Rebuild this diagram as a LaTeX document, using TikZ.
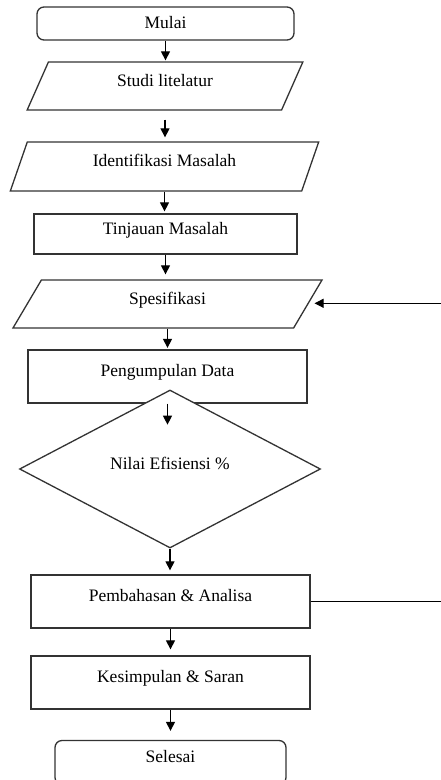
\documentclass[tikz,border=0pt]{standalone}
\usepackage{fontspec}
\setmainfont{Liberation Serif}
\usetikzlibrary{shapes.geometric,arrows.meta}
\colorlet{garis}{black!80}
\tikzset{
    kotak/.style={draw=garis,line width=1.3pt,fill=white,inner sep=2pt,
        text height=12pt,text depth=12pt,font=\fontsize{17.5}{21}\selectfont},
    proses/.style={kotak,rectangle},
    terminal/.style={kotak,rectangle,rounded corners=7pt},
    masukan/.style={kotak,trapezium,trapezium left angle=72,trapezium right angle=108,
        trapezium stretches=true},
    keputusan/.style={kotak,diamond},
    panah/.style={black,line width=1.2pt,-{Triangle[length=9pt,width=9pt]}},
    balikan/.style={black,line width=1pt}
}
\begin{document}
\begin{tikzpicture}[x=1pt,y=1pt]
            \useasboundingbox (0,0) rectangle (441,-780);
            \node [terminal,text depth=3pt,minimum width=257pt,minimum height=33pt] (mulai) at (165.5,-23.5) {Mulai};
            \node [masukan,minimum width=276pt,minimum height=48pt] (studi) at (165,-86) {Studi litelatur};
            \node [masukan,minimum width=309pt,minimum height=49pt] (identifikasi) at (164.5,-166.5) {Identifikasi Masalah};
            \node [proses,minimum width=263pt,minimum height=40pt] (tinjauan) at (165.5,-234) {Tinjauan Masalah};
            \node [masukan,minimum width=309pt,minimum height=48pt] (spesifikasi) at (167.5,-304) {Spesifikasi};
            \node [proses,minimum width=279pt,minimum height=53pt] (pengumpulan) at (167.5,-376.5) {Pengumpulan Data};
            \node [keputusan,minimum width=301pt,minimum height=158pt] (efisiensi) at (170,-469) {Nilai Efisiensi \%};
            \node [proses,minimum width=279pt,minimum height=53pt] (pembahasan) at (170.5,-601.5) {Pembahasan \& Analisa};
            \node [proses,minimum width=279pt,minimum height=53pt] (kesimpulan) at (170.5,-682.5) {Kesimpulan \& Saran};
            \node [terminal,minimum width=231pt,minimum height=44pt] (selesai) at (170.5,-762.5) {Selesai};
            \foreach \a/\b/\s/\t in {mulai/studi/0/1, studi/identifikasi/9/4,
                identifikasi/tinjauan/0/2, tinjauan/spesifikasi/0/5,
                spesifikasi/pengumpulan/0/1.5, efisiensi/pembahasan/0/4,
                pembahasan/kesimpulan/0/6, kesimpulan/selesai/0/9} {
                \draw [panah,shorten <=\s pt,shorten >=\t pt] (\a.south) -- (\a.south |- \b.north);
            }
            \coordinate (tengah) at ([yshift=-21pt]pengumpulan.south);
            \draw [panah] (pengumpulan.south) -- (tengah);
            \coordinate (masuk) at (441,-303.3);
            \coordinate (keluar) at (441,-601.7);
            \draw [panah,line width=1pt,shorten >=6pt] (masuk) -- (spesifikasi.east |- masuk);
            \draw [balikan] (pembahasan.east |- keluar) -- (keluar);
        \end{tikzpicture}
\end{document}
